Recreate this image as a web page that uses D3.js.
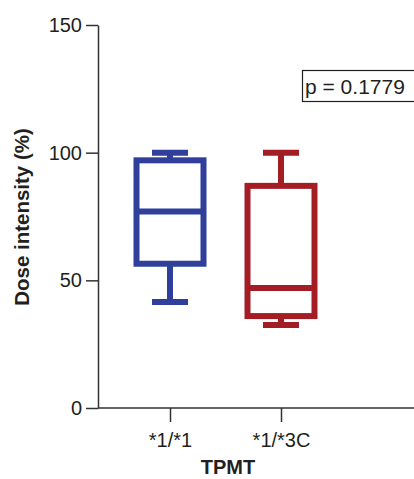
<!DOCTYPE html>
<html>
<head>
<script src="https://d3js.org/d3.v7.min.js"></script>
<style>
  body { margin: 0; background: #fff; }
  text { font-family: "Liberation Sans", Arial, sans-serif; fill: #231f20; }
</style>
</head>
<body>
<svg id="chart" width="414" height="479"></svg>
<script>
// genotype groups
const groups = ["*1/*1", "*1/*3C"];
const colors = ["#2f3f9b", "#a31d24"];
// box stats: min, q1, median, q3, max
const mins = [41.5, 32.5];
const q1s = [56.5, 36];
const medians = [77, 47];
const q3s = [97, 87];
const maxs = [100, 100];
const yTicks = [0, 50, 100, 150];
const pLabel = "p = 0.1779";

const svg = d3.select("#chart");
const axisColor = "#333";
const fontFam = "Liberation Sans, Arial, sans-serif";

const y = d3.scaleLinear().domain([0, 150]).range([408, 25]);
const x = d3.scalePoint().domain(groups).range([170, 281]);

// y axis
const yAxis = svg.append("g")
  .attr("transform", "translate(98,0)")
  .call(d3.axisLeft(y).tickValues(yTicks).tickSize(12).tickSizeOuter(0).tickPadding(4));
yAxis.select(".domain").attr("stroke", axisColor).attr("stroke-width", 1.5);
yAxis.selectAll(".tick line").attr("stroke", axisColor).attr("stroke-width", 1.5);
yAxis.selectAll(".tick text").attr("font-size", 20).attr("fill", "#231f20")
  .style("font-family", fontFam);

// x axis
svg.append("line")
  .attr("x1", 98).attr("x2", 414)
  .attr("y1", y(0)).attr("y2", y(0))
  .attr("stroke", axisColor).attr("stroke-width", 1.5);
const xAxis = svg.append("g")
  .attr("transform", `translate(0,${y(0)})`)
  .call(d3.axisBottom(x).tickSize(14).tickSizeOuter(0).tickPadding(11));
xAxis.select(".domain").remove();
xAxis.selectAll(".tick line").attr("stroke", axisColor).attr("stroke-width", 1.5);
xAxis.selectAll(".tick text").attr("font-size", 20).attr("fill", "#231f20")
  .style("font-family", fontFam);

// axis titles
svg.append("text")
  .attr("x", 228).attr("y", 474)
  .attr("text-anchor", "middle")
  .attr("font-size", 20).attr("font-weight", "bold")
  .text("TPMT");
svg.append("text")
  .attr("transform", "translate(29,217) rotate(-90)")
  .attr("text-anchor", "middle")
  .attr("font-size", 20.5).attr("font-weight", "bold")
  .text("Dose intensity (%)");

// boxes
const boxW = 67, capW = 36, sw = 6;
groups.forEach((g, i) => {
  const cx = x(g);
  const gr = svg.append("g")
    .attr("stroke", colors[i]).attr("stroke-width", sw).attr("fill", "none");
  // whiskers
  gr.append("line").attr("x1", cx).attr("x2", cx).attr("y1", y(maxs[i])).attr("y2", y(q3s[i]));
  gr.append("line").attr("x1", cx).attr("x2", cx).attr("y1", y(q1s[i])).attr("y2", y(mins[i]));
  gr.append("line").attr("x1", cx - capW / 2).attr("x2", cx + capW / 2).attr("y1", y(maxs[i])).attr("y2", y(maxs[i]));
  gr.append("line").attr("x1", cx - capW / 2).attr("x2", cx + capW / 2).attr("y1", y(mins[i])).attr("y2", y(mins[i]));
  // box
  gr.append("rect")
    .attr("x", cx - boxW / 2).attr("width", boxW)
    .attr("y", y(q3s[i])).attr("height", y(q1s[i]) - y(q3s[i]))
    .attr("fill", "#fff");
  gr.append("line").attr("x1", cx - boxW / 2).attr("x2", cx + boxW / 2)
    .attr("y1", y(medians[i])).attr("y2", y(medians[i]));
});

// p-value box
svg.append("rect")
  .attr("x", 302.5).attr("y", 70.5).attr("width", 120).attr("height", 31)
  .attr("fill", "#fff").attr("stroke", "#231f20").attr("stroke-width", 1.2);
svg.append("text")
  .attr("x", 305).attr("y", 94)
  .attr("font-size", 21)
  .text(pLabel);
</script>
</body>
</html>
